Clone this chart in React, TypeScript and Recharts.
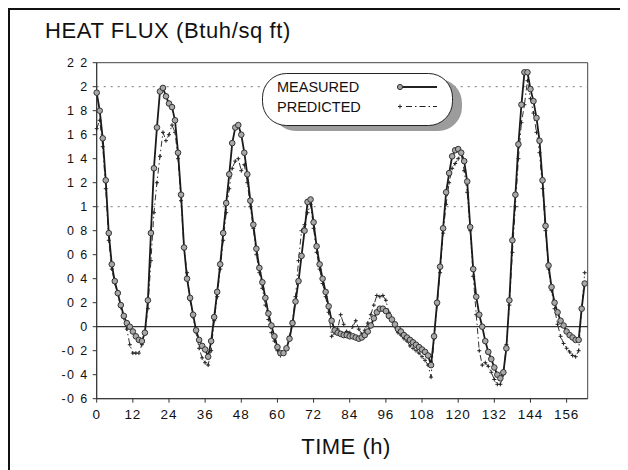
import React from 'react';
import { LineChart, Line, XAxis, YAxis, ReferenceLine, ReferenceArea } from 'recharts';

// Heat flux (Btuh/sq ft), hourly from hour 0 to hour 162
const measured = [
  1.95, 1.80, 1.57, 1.22, 0.78, 0.52, 0.38, 0.28, 0.18, 0.09,
  0.03, 0.00, -0.04, -0.08, -0.11, -0.12, -0.05, 0.22, 0.78, 1.32,
  1.66, 1.96, 1.99, 1.92, 1.86, 1.83, 1.72, 1.45, 1.10, 0.66,
  0.40, 0.24, 0.10, -0.03, -0.11, -0.16, -0.19, -0.25, -0.12, 0.08,
  0.29, 0.52, 0.78, 1.03, 1.27, 1.53, 1.66, 1.68, 1.60, 1.45,
  1.27, 1.05, 0.85, 0.65, 0.49, 0.37, 0.24, 0.11, 0.01, -0.08,
  -0.17, -0.22, -0.22, -0.18, -0.10, 0.03, 0.21, 0.38, 0.59, 0.80,
  1.04, 1.06, 0.87, 0.67, 0.52, 0.40, 0.29, 0.17, 0.05, -0.03,
  -0.05, -0.06, -0.07, -0.07, -0.08, -0.08, -0.09, -0.10, -0.09, -0.07,
  -0.04, 0.01, 0.07, 0.12, 0.15, 0.15, 0.13, 0.09, 0.06, 0.02,
  -0.02, -0.04, -0.07, -0.09, -0.11, -0.13, -0.15, -0.17, -0.19, -0.21,
  -0.24, -0.32, -0.08, 0.20, 0.50, 0.82, 1.12, 1.28, 1.42, 1.47,
  1.48, 1.45, 1.38, 1.21, 0.83, 0.48, 0.25, 0.10, 0.00, -0.12,
  -0.21, -0.27, -0.34, -0.40, -0.43, -0.38, -0.18, 0.22, 0.72, 1.10,
  1.52, 1.85, 2.12, 2.12, 1.98, 1.88, 1.74, 1.55, 1.22, 0.84,
  0.51, 0.33, 0.20, 0.12, 0.05, 0.01, -0.04, -0.07, -0.09, -0.11,
  -0.11, 0.15, 0.36,
];

const predicted = [
  1.65, 1.72, 1.50, 1.15, 0.72, 0.48, 0.36, 0.27, 0.16, 0.07,
  -0.02, -0.15, -0.22, -0.22, -0.22, -0.15, -0.05, 0.15, 0.55, 0.95,
  1.20, 1.42, 1.62, 1.55, 1.60, 1.68, 1.62, 1.40, 1.05, 0.65,
  0.45, 0.22, 0.08, -0.05, -0.18, -0.26, -0.30, -0.32, -0.20, 0.05,
  0.25, 0.48, 0.72, 0.95, 1.15, 1.32, 1.38, 1.40, 1.30, 1.35,
  1.20, 1.00, 0.82, 0.60, 0.45, 0.32, 0.18, 0.06, -0.05, -0.12,
  -0.20, -0.24, -0.22, -0.18, -0.08, 0.05, 0.25, 0.55, 0.80, 0.85,
  0.95, 1.02, 0.82, 0.62, 0.48, 0.36, 0.25, 0.12, -0.08, -0.05,
  -0.02, 0.10, 0.02, -0.04, -0.05, 0.00, 0.05, -0.02, -0.06, -0.03,
  0.03, 0.10, 0.18, 0.26, 0.25, 0.26, 0.22, 0.12, 0.05, 0.00,
  -0.05, -0.07, -0.10, -0.12, -0.16, -0.18, -0.20, -0.22, -0.25, -0.28,
  -0.32, -0.42, -0.10, 0.18, 0.45, 0.78, 1.02, 1.20, 1.32, 1.36,
  1.40, 1.44, 1.30, 1.12, 0.80, 0.42, 0.10, -0.20, -0.32, -0.30,
  -0.33, -0.38, -0.44, -0.48, -0.48, -0.40, -0.15, 0.18, 0.62, 1.00,
  1.40, 1.70, 1.85, 2.05, 1.90, 1.78, 1.62, 1.45, 1.15, 0.80,
  0.48, 0.30, 0.15, 0.02, -0.08, -0.14, -0.18, -0.21, -0.24, -0.25,
  -0.20, 0.15, 0.45,
];

const xTicks = [0, 12, 24, 36, 48, 60, 72, 84, 96, 108, 120, 132, 144, 156];
const xTickLabels = ['0', '12', '24', '36', '48', '60', '72', '84', '96', '108', '120', '132', '144', '156'];
const yTicks = [-0.6, -0.4, -0.2, 0, 0.2, 0.4, 0.6, 0.8, 1, 1.2, 1.4, 1.6, 1.8, 2, 2.2];
const yTickLabels = ['-0 6', '-0 4', '-0 2', '0', '0 2', '0 4', '0 6', '0 8', '1', '1 2', '1 4', '1 6', '1 8', '2', '2 2'];
const gridValues = [1, 2];
const seriesNames = ['MEASURED', 'PREDICTED'];

const FONT = '"Liberation Sans", Arial, Helvetica, sans-serif';

const PlusDot = (props: any) => {
  const { cx, cy } = props;
  if (cx == null || cy == null) return null;
  return (
    <path
      d={`M${cx - 2},${cy} L${cx + 2},${cy} M${cx},${cy - 2} L${cx},${cy + 2}`}
      stroke="#222"
      strokeWidth={1}
    />
  );
};

const LegendBox = () => (
  <svg width={215} height={70} style={{ display: 'block' }}>
    <rect x={10} y={6} width={190} height={52} rx={24} ry={24} fill="#9c9c9c" />
    <rect x={0.5} y={0.5} width={190} height={52} rx={24} ry={24} fill="#fff" stroke="#222" strokeWidth={1} />
    <text x={15} y={19} fontFamily={FONT} fontSize={14.5} fill="#111">{seriesNames[0]}</text>
    <text x={15} y={38.5} fontFamily={FONT} fontSize={14.5} fill="#111">{seriesNames[1]}</text>
    <line x1={138} y1={14} x2={175} y2={14} stroke="#222" strokeWidth={2.2} />
    <circle cx={138} cy={14} r={2.6} fill="#a0a0a0" stroke="#333" strokeWidth={1} />
    <path d="M136,33.5 L140,33.5 M138,31.5 L138,35.5" stroke="#222" strokeWidth={1} />
    <line x1={144} y1={33.5} x2={175} y2={33.5} stroke="#222" strokeWidth={1} strokeDasharray="6 3 1.5 3" />
  </svg>
);

const App = () => {
  const data = measured.map((m, i) => ({ h: i, measured: m, predicted: predicted[i] }));
  const fmtY = (v: number) => {
    const idx = yTicks.findIndex((t) => Math.abs(t - v) < 1e-6);
    return idx >= 0 ? yTickLabels[idx] : '';
  };
  const fmtX = (v: number) => {
    const idx = xTicks.indexOf(v);
    return idx >= 0 ? xTickLabels[idx] : '';
  };
  return (
    <div
      style={{
        position: 'relative',
        width: 620,
        height: 462,
        borderLeft: '2px solid #111',
        borderTop: '2px solid #111',
        boxSizing: 'border-box',
        background: '#fff',
        fontFamily: FONT,
      }}
    >
      <div
        style={{
          position: 'absolute',
          left: 35,
          top: 10,
          fontSize: 22,
          lineHeight: '22px',
          letterSpacing: 0.6,
          color: '#111',
          whiteSpace: 'nowrap',
        }}
      >
        HEAT FLUX (Btuh/sq ft)
      </div>
      <LineChart
        width={618}
        height={460}
        data={data}
        margin={{ top: 52.7, right: 40.3, bottom: 41.3, left: 26.7 }}
      >
        <ReferenceArea x1={0} x2={163} y1={-0.6} y2={2.2} fill="none" stroke="#444" strokeWidth={1} />
        {gridValues.map((g) => (
          <ReferenceLine key={g} y={g} stroke="#777" strokeWidth={1} strokeDasharray="2 5" />
        ))}
        <ReferenceLine y={0} stroke="#333" strokeWidth={1.2} />
        <XAxis
          dataKey="h"
          type="number"
          domain={[0, 163]}
          ticks={xTicks}
          tickFormatter={fmtX}
          interval={0}
          height={30}
          tickSize={4}
          tickMargin={7}
          axisLine={{ stroke: '#333' }}
          tickLine={{ stroke: '#333' }}
          tick={{ fill: '#111', fontSize: 13.5, fontFamily: FONT, letterSpacing: 0.9 }}
        />
        <YAxis
          type="number"
          domain={[-0.6, 2.2]}
          ticks={yTicks}
          tickFormatter={fmtY}
          interval={0}
          width={60}
          tickSize={4}
          tickMargin={4}
          axisLine={{ stroke: '#333' }}
          tickLine={{ stroke: '#333' }}
          tick={{ fill: '#111', fontSize: 12.5, fontFamily: FONT, letterSpacing: 1.4 }}
        />
        <Line
          type="linear"
          dataKey="predicted"
          stroke="#333"
          strokeWidth={1}
          strokeDasharray="6 3 1.5 3"
          dot={<PlusDot />}
          activeDot={false}
          isAnimationActive={false}
        />
        <Line
          type="linear"
          dataKey="measured"
          stroke="#1a1a1a"
          strokeWidth={1.8}
          dot={{ r: 2.8, fill: '#a8a8a8', stroke: '#333', strokeWidth: 1 }}
          activeDot={false}
          isAnimationActive={false}
        />
      </LineChart>
      <div style={{ position: 'absolute', left: 252, top: 63, width: 215, height: 70, pointerEvents: 'none' }}>
        <LegendBox />
      </div>
      <div
        style={{
          position: 'absolute',
          left: 336,
          top: 426,
          transform: 'translateX(-50%)',
          fontSize: 22,
          lineHeight: '22px',
          letterSpacing: 0.5,
          color: '#111',
          whiteSpace: 'nowrap',
        }}
      >
        TIME (h)
      </div>
    </div>
  );
};

export default App;
